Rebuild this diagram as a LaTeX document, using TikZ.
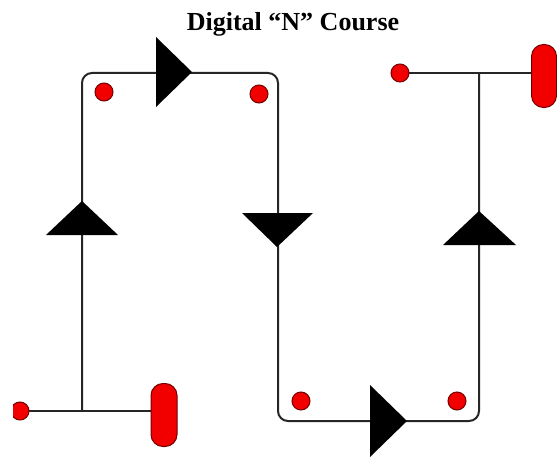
\documentclass[tikz,border=0pt]{standalone}
\usepackage{fontspec}
\setmainfont{Liberation Serif}
\begin{document}
\begin{tikzpicture}[x=1pt,y=-1pt,
  track/.style={draw=black!85,line width=2pt,rounded corners=10pt},
  dotmark/.style={circle,draw=red!45!black,fill=red!95!black,line width=1pt,minimum size=18pt,inner sep=0pt},
  ovalmark/.style={rectangle,rounded corners=12pt,draw=red!45!black,fill=red!95!black,line width=1pt,minimum width=26pt,minimum height=63pt,inner sep=0pt},
  arrowtri/.style={fill=black}
]
\useasboundingbox (0,0) rectangle (557,460);
\fill[white] (0,0) rectangle (557,460);
\node[font=\bfseries\fontsize{26}{30}\selectfont,anchor=base] (title) at (293,31) {Digital “N” Course};
% coordinates of the track
\coordinate (jBL) at (82,411);
\coordinate (cTL) at (82,73);
\coordinate (cTR) at (278,73);
\coordinate (cBL) at (278,421);
\coordinate (cBR) at (479,421);
\coordinate (jTR) at (479,73);
\begin{scope}
\clip (13,0) rectangle (557,460);
% lines first
\draw[track] (20,411) -- (151,411);
\draw[track] (jBL) -- (cTL) -- (cTR) -- (cBL) -- (cBR) -- (jTR);
\draw[track] (400,73) -- (532,73);
% markers
\node[dotmark] (dStart) at (20,411) {};
\node[ovalmark] (oStart) at (164,415) {};
\node[dotmark] (dEnd) at (400,73) {};
\node[ovalmark,minimum width=25pt] (oEnd) at (544,76) {};
\end{scope}
\node[dotmark] (d1) at (104,92) {};
\node[dotmark] (d2) at (259,94) {};
\node[dotmark] (d3) at (301,401) {};
\node[dotmark] (d4) at (457,401) {};
% direction triangles
\fill[arrowtri] (156,37) -- (192,72) -- (156,107) -- cycle;
\fill[arrowtri] (82,201) -- (118,235) -- (46,235) -- cycle;
\fill[arrowtri] (242,213) -- (313,213) -- (277,247) -- cycle;
\fill[arrowtri] (370,385) -- (407,421) -- (370,457) -- cycle;
\fill[arrowtri] (479,211) -- (516,245) -- (443,245) -- cycle;
\end{tikzpicture}
\end{document}
